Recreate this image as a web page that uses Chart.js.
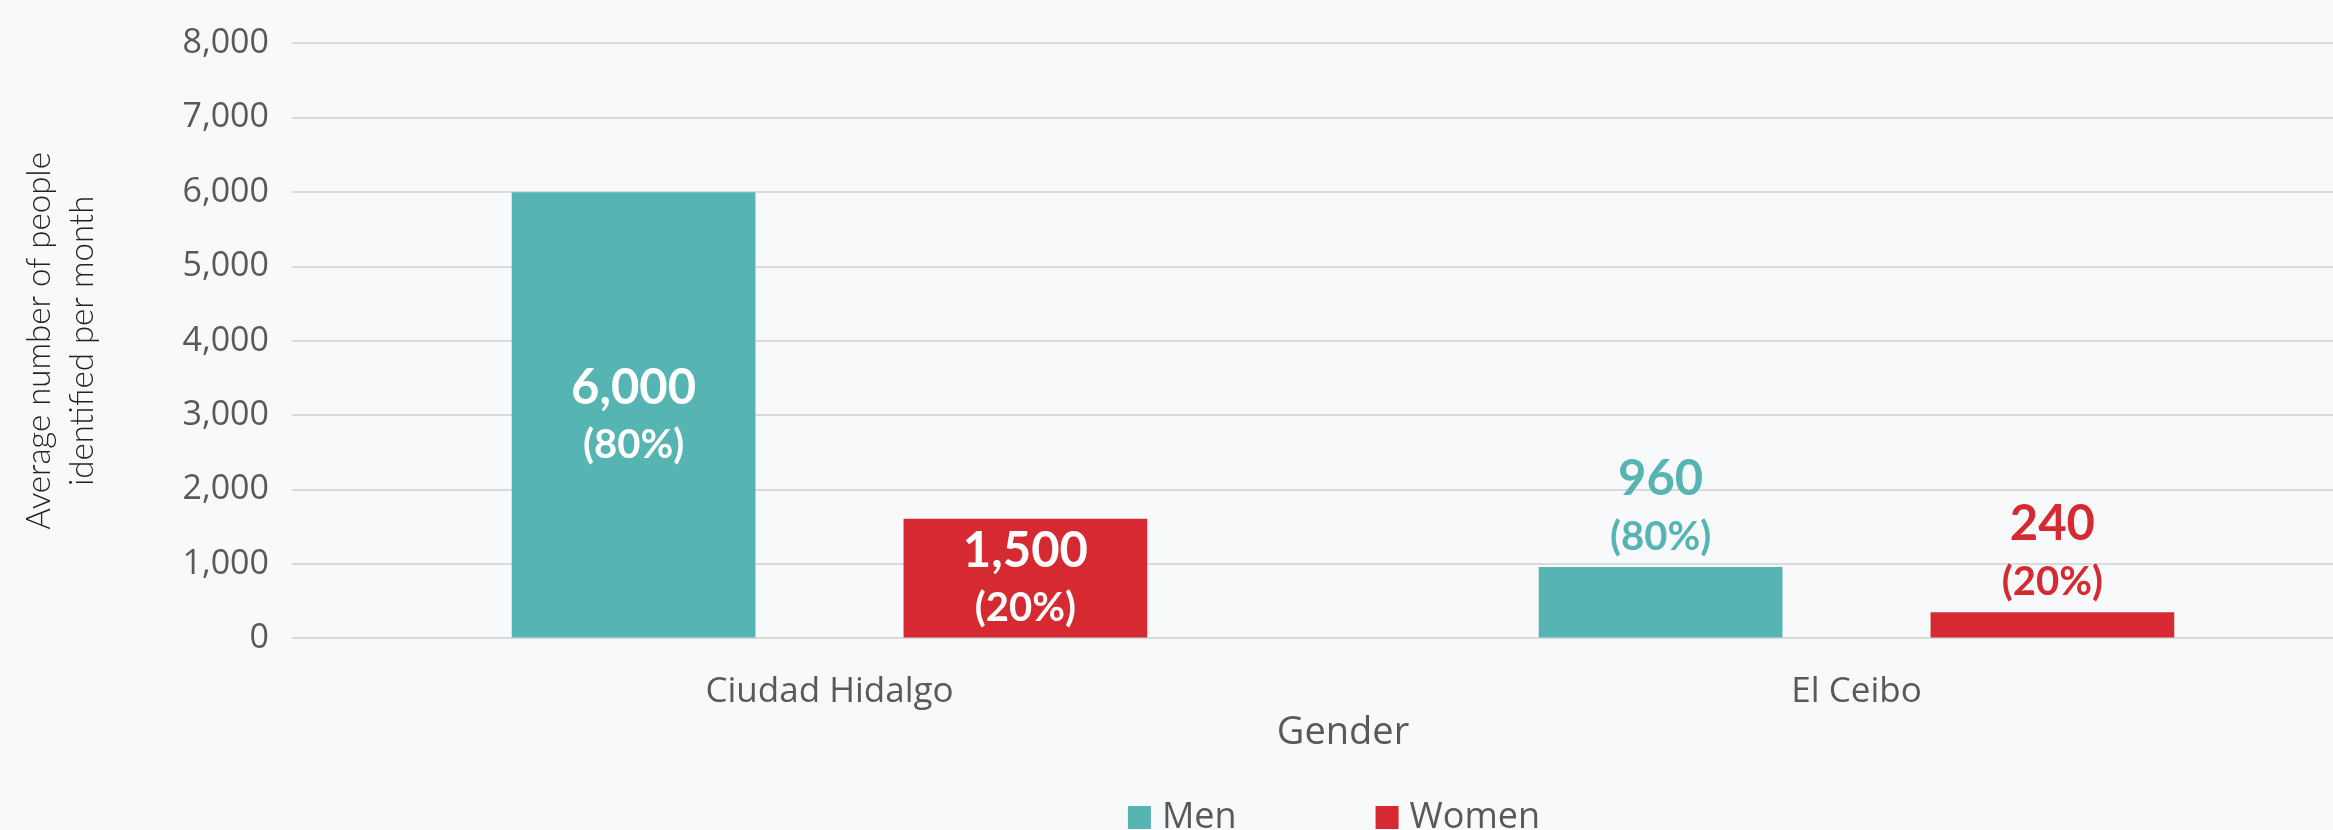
<!DOCTYPE html>
<html>
<head>
<meta charset="utf-8">
<title>Average number of people identified per month</title>
<style>
  html, body { margin: 0; padding: 0; background: #F8F9FB; overflow: hidden; }
  #wrap { width: 2370px; height: 830px; position: relative; }
</style>
</head>
<body>
<div id="wrap"><canvas id="myChart"></canvas></div>
<script src="https://cdn.jsdelivr.net/npm/chart.js@4.4.1/dist/chart.umd.min.js"></script>
<script>
// data
const categories = ['Ciudad Hidalgo', 'El Ceibo'];
const seriesNames = ['Men', 'Women'];
const menValues = [6000, 960];
const womenValues = [1610, 350];
const menLabels = ['6,000', '960'];
const womenLabels = ['1,500', '240'];
const menShares = ['(80%)', '(80%)'];
const womenShares = ['(20%)', '(20%)'];
const yMax = 8000;
const yStep = 1000;

const TEAL = '#56B4B3';
const RED = '#D52A31';
const GREY = '#595959';

const valueText = [menLabels, womenLabels];
const shareText = [menShares, womenShares];

// background fill
const bgPlugin = {
  id: 'bg',
  beforeDraw(chart) {
    const c = chart.ctx;
    c.save();
    c.fillStyle = '#F8F9FB';
    c.fillRect(0, 0, chart.width, chart.height);
    c.restore();
  }
};

// value + share labels, inside tall bars, above short ones
const barLabels = {
  id: 'barLabels',
  afterDatasetsDraw(chart) {
    const c = chart.ctx;
    chart.data.datasets.forEach((ds, i) => {
      const meta = chart.getDatasetMeta(i);
      meta.data.forEach((bar, j) => {
        const h = bar.base - bar.y;
        let y1, y2, color;
        if (h > 100) {
          const mid = (bar.y + bar.base) / 2;
          y1 = mid - 27;
          y2 = mid + 30;
          color = '#ffffff';
        } else {
          y1 = bar.y - 88;
          y2 = bar.y - 30;
          color = ds.backgroundColor;
        }
        c.save();
        c.textAlign = 'center';
        c.textBaseline = 'middle';
        c.fillStyle = color;
        c.font = 'bold 49px Lato';
        c.fillText(valueText[i][j], bar.x, y1);
        c.font = 'bold 40px Lato';
        c.fillText(shareText[i][j], bar.x, y2);
        c.restore();
      });
    });
  }
};

// legend at the bottom, cut by the frame like the reference
const bottomLegend = {
  id: 'bottomLegend',
  afterDraw(chart) {
    const c = chart.ctx;
    const box = 23, gapText = 11, gapItem = 139;
    c.save();
    c.font = '36px "Open Sans"';
    c.textBaseline = 'middle';
    const items = chart.data.datasets.map(ds => ({ text: ds.label, color: ds.backgroundColor, w: c.measureText(ds.label).width }));
    let total = 0;
    items.forEach((it, k) => { total += box + gapText + it.w + (k ? gapItem : 0); });
    const area = chart.chartArea;
    let x = (area.left + area.right) / 2 - 9 - total / 2;
    const top = 806;
    items.forEach(it => {
      c.fillStyle = it.color;
      c.fillRect(x, top, box, box);
      c.fillStyle = GREY;
      c.fillText(it.text, x + box + gapText, top + box / 2);
      x += box + gapText + it.w + gapItem;
    });
    c.restore();
  }
};

const ctx = document.getElementById('myChart').getContext('2d');
const myChart = new Chart(ctx, {
  type: 'bar',
  data: {
    labels: categories,
    datasets: [
      { label: seriesNames[0], data: menValues, backgroundColor: TEAL },
      { label: seriesNames[1], data: womenValues, backgroundColor: RED }
    ]
  },
  options: {
    responsive: true,
    maintainAspectRatio: false,
    animation: false,
    devicePixelRatio: 1,
    categoryPercentage: 0.763,
    barPercentage: 0.622,
    layout: { padding: { top: 43, bottom: 74, left: 0, right: 0 } },
    plugins: {
      legend: { display: false },
      tooltip: { enabled: false }
    },
    scales: {
      x: {
        grid: { display: false, drawTicks: false },
        border: { display: false },
        ticks: { color: GREY, padding: 33, font: { family: 'Open Sans', size: 35 } },
        title: {
          display: true,
          text: 'Gender',
          color: GREY,
          padding: { top: -36, bottom: 0 },
          font: { family: 'Open Sans', size: 38 }
        }
      },
      y: {
        min: 0,
        max: yMax,
        afterFit(scale) { scale.width = 316; },
        grid: { color: '#DADADA', lineWidth: 2, drawTicks: true, tickLength: 24 },
        border: { display: false },
        ticks: { stepSize: yStep, color: GREY, padding: 23, font: { family: 'Open Sans', size: 34 } },
        title: {
          display: true,
          text: ['Average number of people', 'identified per month'],
          color: '#222222',
          padding: { top: 18, bottom: 0 },
          font: { family: 'Lato', weight: '300', size: 33, lineHeight: 1.3 }
        }
      }
    }
  },
  plugins: [bgPlugin, barLabels, bottomLegend]
});
</script>
</body>
</html>
